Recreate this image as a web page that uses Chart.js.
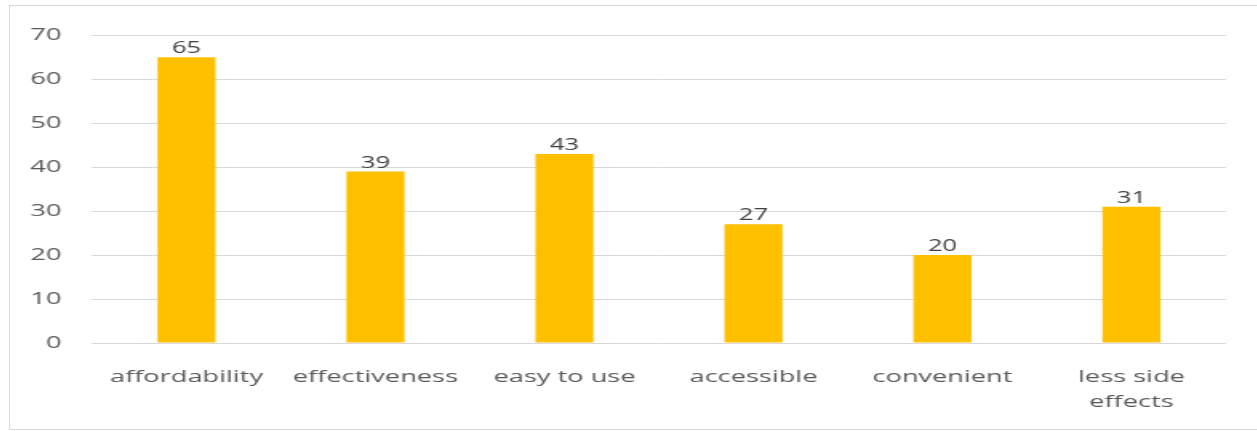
<!DOCTYPE html>
<html>
<head>
<meta charset="utf-8">
<script src="https://cdn.jsdelivr.net/npm/chart.js@4.4.1/dist/chart.umd.min.js"></script>
<style>
    html, body {
        margin: 0;
        padding: 0;
        background: #ffffff;
    }
    #frame {
        position: absolute;
        left: 9px;
        top: 5px;
        width: 1248px;
        height: 423px;
        border-left: 1px solid #d9d9d9;
        border-top: 1px solid #d9d9d9;
        border-bottom: 1px solid #d9d9d9;
        overflow: hidden;
    }
    /* chart is laid out narrow and widened, like the stretched office export */
    #wrap {
        position: absolute;
        left: 0;
        top: 0;
        width: 780px;
        height: 423px;
        transform: scaleX(1.6);
        transform-origin: 0 0;
    }
</style>
</head>
<body>
<div id="frame">
    <div id="wrap">
        <canvas id="reasonsChart"></canvas>
    </div>
</div>

<script>
// ========================================
// DATA
// ========================================

const categories = ['affordability', 'effectiveness', 'easy to use', 'accessible', 'convenient', ['less side', 'effects']];
const responses = [65, 39, 43, 27, 20, 31];
const yTicks = [0, 10, 20, 30, 40, 50, 60, 70];

const barColor = '#FFC000';
const gridColor = '#d9d9d9';
const tickColor = '#595959';

// ========================================
// VALUE LABELS ABOVE BARS
// ========================================

const valueLabels = {
    id: 'valueLabels',
    afterDatasetsDraw(chart) {
        const ctx = chart.ctx;
        const meta = chart.getDatasetMeta(0);
        ctx.save();
        ctx.font = '16px "Open Sans", sans-serif';
        ctx.fillStyle = '#404040';
        ctx.textAlign = 'center';
        ctx.textBaseline = 'alphabetic';
        meta.data.forEach((bar, i) => {
            ctx.fillText(String(chart.data.datasets[0].data[i]), bar.x, bar.y - 4);
        });
        ctx.restore();
    }
};

// ========================================
// CHART
// ========================================

function initReasonsChart() {
    const ctx = document.getElementById('reasonsChart');
    if (!ctx) return;

    new Chart(ctx, {
        type: 'bar',
        data: {
            labels: categories,
            datasets: [{
                data: responses,
                backgroundColor: barColor,
                borderWidth: 0,
                categoryPercentage: 1,
                barPercentage: 0.307
            }]
        },
        options: {
            responsive: true,
            maintainAspectRatio: false,
            animation: false,
            layout: {
                padding: { top: 27, right: 20, bottom: 0, left: 0 }
            },
            plugins: {
                legend: { display: false },
                tooltip: { enabled: false }
            },
            scales: {
                y: {
                    min: 0,
                    max: 70,
                    afterBuildTicks: function(scale) {
                        scale.ticks = yTicks.map(v => ({ value: v }));
                    },
                    afterFit: function(scale) {
                        scale.width = 51.25;
                    },
                    grid: {
                        color: gridColor,
                        lineWidth: 1,
                        drawTicks: false
                    },
                    border: { display: false },
                    ticks: {
                        color: tickColor,
                        padding: 19,
                        font: { family: '"Open Sans", sans-serif', size: 17 }
                    }
                },
                x: {
                    afterFit: function(scale) {
                        scale.height = 86;
                    },
                    grid: { display: false },
                    border: { display: false },
                    ticks: {
                        color: tickColor,
                        padding: 14,
                        maxRotation: 0,
                        autoSkip: false,
                        font: { family: '"Open Sans", sans-serif', size: 17, lineHeight: 1.45 }
                    }
                }
            }
        },
        plugins: [valueLabels]
    });
}

document.addEventListener('DOMContentLoaded', function() {
    initReasonsChart();
});
</script>
</body>
</html>
